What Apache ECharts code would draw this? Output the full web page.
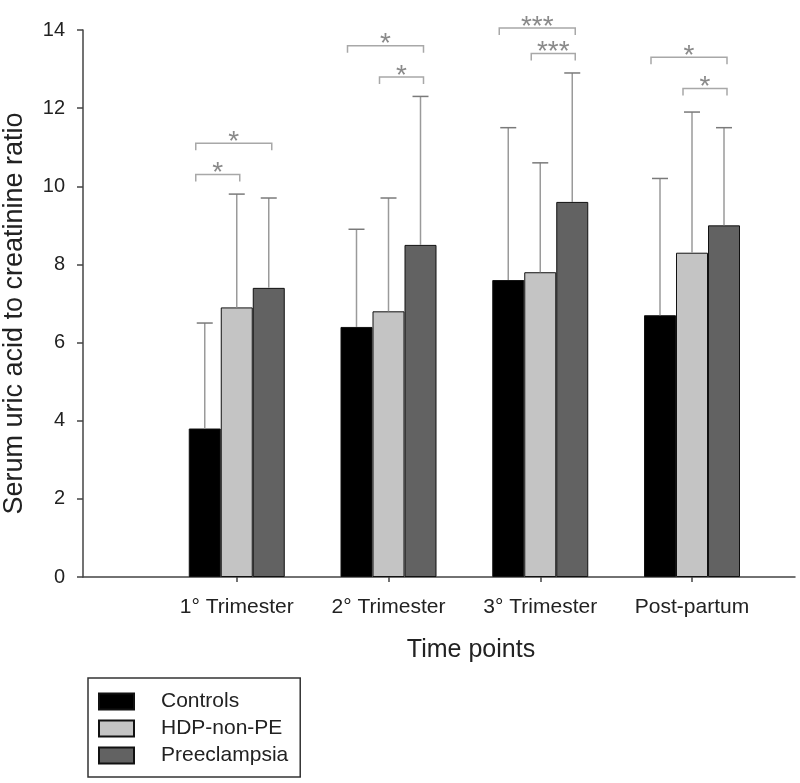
<!DOCTYPE html>
<html>
<head>
<meta charset="utf-8">
<script src="https://cdn.jsdelivr.net/npm/echarts@6/dist/echarts.min.js"></script>
<style>html,body{margin:0;padding:0;background:#fff}#chart{width:800px;height:783px}</style>
</head>
<body>
<div id="chart"></div>
<script>
// ---- data ----
const categories = ['', '1° Trimester', '2° Trimester', '3° Trimester', 'Post-partum'];
const seriesNames = ['Controls', 'HDP-non-PE', 'Preeclampsia'];
const controls = [null, 3.8, 6.4, 7.6, 6.7];
const hdpNonPE = [null, 6.9, 6.8, 7.8, 8.3];
const preeclampsia = [null, 7.4, 8.5, 9.6, 9.0];
const controlsUpper = [null, 6.5, 8.9, 11.5, 10.2];
const hdpNonPEUpper = [null, 9.8, 9.7, 10.6, 11.9];
const preeclampsiaUpper = [null, 9.7, 12.3, 12.9, 11.5];
// significance brackets: [category index, from group, to group, y level, label]
const brackets = [
  [1, 0, 1, 10.3, '*'],
  [1, 0, 2, 11.1, '*'],
  [2, 0, 2, 13.6, '*'],
  [2, 1, 2, 12.8, '*'],
  [3, 0, 2, 14.05, '***'],
  [3, 1, 2, 13.4, '***'],
  [4, 0, 2, 13.3, '*'],
  [4, 1, 2, 12.5, '*']
];
const yMin = 0, yMax = 14, yInterval = 2;

// ---- styling ----
const FONT = "'Liberation Sans', Arial, sans-serif";
const BAR_W = 32;
const colors = ['#000000', '#c4c4c4', '#626262'];
const means = [controls, hdpNonPE, preeclampsia];
const uppers = [controlsUpper, hdpNonPEUpper, preeclampsiaUpper];

const errData = [];
means.forEach((arr, s) => arr.forEach((v, i) => {
  if (v != null) errData.push([i, v, uppers[s][i], s]);
}));
const brData = brackets.map(b => [b[0], b[3], b[1], b[2], b[4]]);

const chart = echarts.init(document.getElementById('chart'));
const barSeries = seriesNames.map((n, s) => ({
  name: n, type: 'bar', xAxisIndex: 1, yAxisIndex: 1,
  data: means[s], barWidth: BAR_W, barGap: '0%',
  itemStyle: { color: colors[s], borderColor: '#111', borderWidth: 1 },
  emphasis: { disabled: true }, z: 2
}));

chart.setOption({
  animation: false,
  textStyle: { fontFamily: FONT },
  title: {
    text: 'Time points', left: 466, top: 633, textAlign: 'center',
    textStyle: { fontFamily: FONT, fontSize: 25, fontWeight: 'normal', color: '#222' }
  },
  legend: {
    orient: 'vertical', left: 88, top: 678,
    data: seriesNames, icon: 'rect', itemWidth: 35, itemHeight: 16, itemGap: 6,
    borderColor: '#333', borderWidth: 1.5, padding: [13, 12, 11, 10],
    textStyle: { fontFamily: FONT, fontSize: 21, color: '#222', padding: [0, 0, 0, 22] },
    selectedMode: false
  },
  grid: [
    { left: 83, right: 5, top: 30, bottom: 206, outerBoundsMode: 'none', containLabel: false },
    { left: 85, right: 108, top: 30, bottom: 206, outerBoundsMode: 'none', containLabel: false }
  ],
  xAxis: [
    { type: 'value', gridIndex: 0, min: 0, max: 1,
      axisLine: { show: true, lineStyle: { color: '#444', width: 1.5 } },
      axisTick: { show: false }, axisLabel: { show: false }, splitLine: { show: false } },
    { type: 'category', gridIndex: 1, data: categories, boundaryGap: false,
      axisLine: { show: false },
      axisTick: { show: true, length: 5, interval: (i) => i > 0, lineStyle: { color: '#444', width: 1.5 } },
      axisLabel: { margin: 20, fontSize: 21, color: '#222', fontFamily: FONT, interval: 0 },
      splitLine: { show: false } }
  ],
  yAxis: [
    { type: 'value', gridIndex: 0, min: yMin, max: yMax, interval: yInterval,
      name: 'Serum uric acid to creatinine ratio', nameLocation: 'middle', nameGap: 55,
      nameTextStyle: { fontSize: 27, color: '#222', fontFamily: FONT, padding: [0, 20, 0, 0] },
      axisLine: { show: true, lineStyle: { color: '#444', width: 1.5 } },
      axisTick: { show: true, length: 6, lineStyle: { color: '#444', width: 1.5 } },
      axisLabel: { margin: 18, fontSize: 20, color: '#222', fontFamily: FONT },
      splitLine: { show: false } },
    { type: 'value', gridIndex: 1, min: yMin, max: yMax, interval: yInterval, show: false }
  ],
  series: [
    ...barSeries,
    {
      type: 'custom', xAxisIndex: 1, yAxisIndex: 1, data: errData, z: 5, silent: true,
      renderItem: function (params, api) {
        const s = api.value(3);
        const base = api.coord([api.value(0), api.value(1)]);
        const top = api.coord([api.value(0), api.value(2)]);
        const x = base[0] + (s - 1) * BAR_W;
        return { type: 'group', children: [
          { type: 'line', shape: { x1: x, y1: base[1], x2: x, y2: top[1] }, style: { stroke: '#9a9a9a', lineWidth: 1.5 } },
          { type: 'line', shape: { x1: x - 8, y1: top[1], x2: x + 8, y2: top[1] }, style: { stroke: '#7a7a7a', lineWidth: 1.5 } }
        ]};
      }
    },
    {
      type: 'custom', xAxisIndex: 1, yAxisIndex: 1, data: brData, z: 5, silent: true,
      renderItem: function (params, api) {
        const p = api.coord([api.value(0), api.value(1)]);
        const a = api.value(2), b = api.value(3);
        const x1 = p[0] + (a - 1) * BAR_W - 9;
        const x2 = p[0] + (b - 1) * BAR_W + 3;
        const y = p[1];
        const label = brData[params.dataIndex][4];
        return { type: 'group', children: [
          { type: 'polyline', shape: { points: [[x1, y + 7], [x1, y], [x2, y], [x2, y + 7]] },
            style: { stroke: '#a8a8a8', lineWidth: 1.5, fill: null } },
          { type: 'text', x: (x1 + x2) / 2, y: y - 1,
            style: { text: label, fontSize: 28, fontFamily: FONT, fill: '#8a8a8a', align: 'center', verticalAlign: 'middle' } }
        ]};
      }
    }
  ]
});
</script>
</body>
</html>
